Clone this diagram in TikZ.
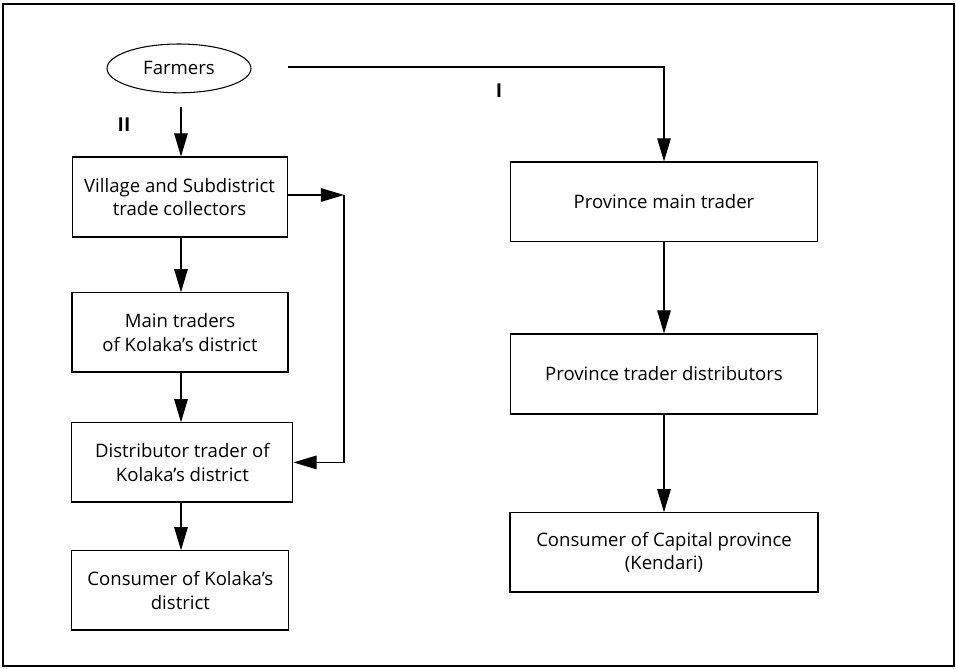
\documentclass[tikz,border=0pt]{standalone}
\usepackage{fontspec}
\setmainfont{Open Sans}
\usepackage{tikz}
\usetikzlibrary{arrows.meta,shapes.geometric}

\begin{document}
\begin{tikzpicture}[>={Triangle[length=5.8mm,width=3.4mm]},line width=0.75pt,
  font=\fontsize{13.2}{17}\selectfont,
  box/.style={draw,align=center,inner sep=0pt,minimum height=1.98cm},
  lbl/.style={font=\fontsize{13.6}{17}\selectfont\bfseries}]
\useasboundingbox (0,0) rectangle (23.9,-16.7);
\draw (0.075,-0.1) rectangle (23.85,-16.65);
\node[draw,ellipse,inner sep=0pt,minimum width=3.6cm,minimum height=1.22cm] (farmers) at (4.475,-1.71) {Farmers};
\node[box,minimum width=5.375cm,minimum height=2cm] (village) at (4.49,-4.925) {Village and Subdistrict\\trade collectors};
\node[box,minimum width=5.4cm] (kolmain) at (4.5,-8.31) {Main traders\\of Kolaka’s district};
\node[box,minimum width=5.525cm] (koldist) at (4.56,-11.56) {Distributor trader of\\Kolaka’s district};
\node[box,minimum width=5.425cm] (kolcons) at (4.51,-14.76) {Consumer of Kolaka’s\\district};
\node[box,minimum width=7.675cm] (provmain) at (16.6,-5.04) {Province main trader};
\node[box,minimum width=7.675cm,minimum height=2cm] (provdist) at (16.6,-9.35) {Province trader distributors};
\node[box,minimum width=7.7cm] (provcons) at (16.6,-13.81) {Consumer of Capital province\\(Kendari)};
\node[lbl] (two) at (3.1,-3.125) {II};
\node[lbl] (one) at (12.475,-2.275) {I};
\coordinate (fdown) at (4.525,-2.675);
\coordinate (fright) at (7.2,-1.675);
\coordinate (loop) at (8.6,-4.875);
\draw[->] (fdown) -- (fdown |- village.north);
\draw[->] (fright) -| (provmain.north);
\draw[->] (village.south -| fdown) -- (kolmain.north -| fdown);
\draw[->] (kolmain.south -| fdown) -- (koldist.north -| fdown);
\draw[->] (koldist.south -| fdown) -- (kolcons.north -| fdown);
\draw[->] (village.east |- loop) -- (loop);
\draw[->] (loop) |- (koldist.east);
\draw[->] (provmain) -- (provdist);
\draw[->] (provdist) -- (provcons);
\end{tikzpicture}
\end{document}
